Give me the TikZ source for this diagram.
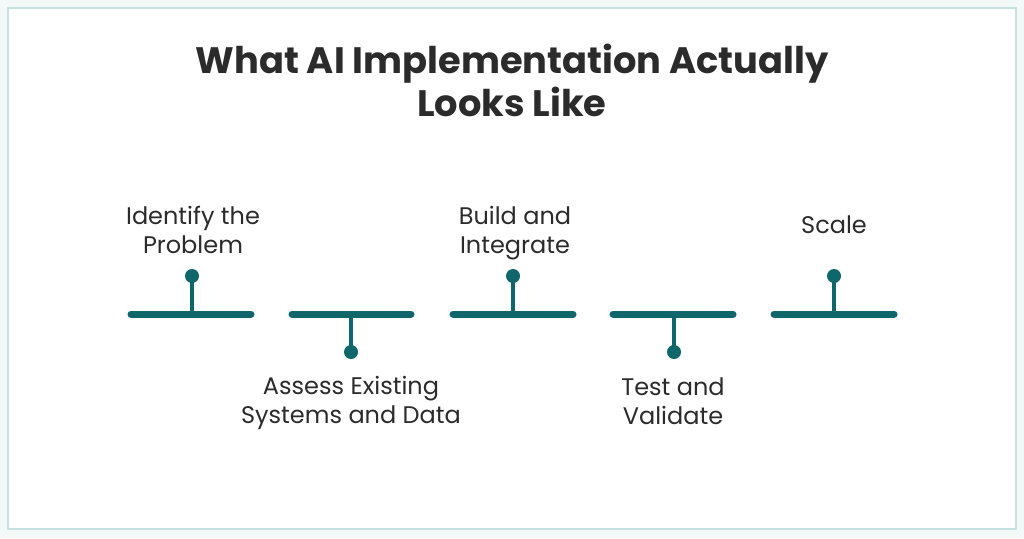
\documentclass[tikz,border=0pt]{standalone}
\usepackage{fontspec}
\setmainfont{Poppins}
\usepackage{xcolor}
\usetikzlibrary{positioning}
\definecolor{tealbar}{HTML}{0F676C}
\definecolor{textdark}{HTML}{2B2B2B}
\definecolor{frameline}{HTML}{C4E2E2}
\definecolor{outerbg}{HTML}{F3F9F9}

\begin{document}
\begin{tikzpicture}[
    x=1pt,y=-1pt,
    bar/.style={line width=7pt,draw=tealbar,line cap=round},
    stem/.style={line width=4.5pt,draw=tealbar},
    dot/.style={circle,fill=tealbar,inner sep=0pt,minimum size=14pt},
    label/.style={align=center,text=textdark,font=\fontsize{24}{29}\selectfont}
]
    % Background and frame
    \fill[outerbg] (0,0) rectangle (1024,538);
    \draw[frameline,line width=2pt,fill=white] (8,8) rectangle (1016,529);
    \useasboundingbox (0,0) rectangle (1024,538);

    % Title
    \node[align=center,text=textdark,font=\bfseries\fontsize{36.8}{43}\selectfont] (title) at (512,80)
        {What AI Implementation Actually\\Looks Like};

    % Bars
    \coordinate (b1l) at (131,314); \coordinate (b1r) at (251,314);
    \coordinate (b2l) at (292,314); \coordinate (b2r) at (411,314);
    \coordinate (b3l) at (453,314); \coordinate (b3r) at (573,314);
    \coordinate (b4l) at (613,314); \coordinate (b4r) at (733,314);
    \coordinate (b5l) at (774,314); \coordinate (b5r) at (894,314);

    % Dots
    \node[dot] (d1) at (192,276) {};
    \node[dot] (d2) at (351,352) {};
    \node[dot] (d3) at (513,276) {};
    \node[dot] (d4) at (674,352) {};
    \node[dot] (d5) at (834,276) {};

    % Stems
    \draw[stem] (d1.center) -- (192,314);
    \draw[stem] (d2.center) -- (351,314);
    \draw[stem] (d3.center) -- (513,314);
    \draw[stem] (d4.center) -- (674,314);
    \draw[stem] (d5.center) -- (834,314);

    \draw[bar] (b1l) -- (b1r);
    \draw[bar] (b2l) -- (b2r);
    \draw[bar] (b3l) -- (b3r);
    \draw[bar] (b4l) -- (b4r);
    \draw[bar] (b5l) -- (b5r);

    % Labels
    \node[label] (l1) at (193,230) {Identify the\\Problem};
    \node[label] (l2) at (351,403) {Assess Existing\\Systems and Data};
    \node[label] (l3) at (515,233) {Build and\\Integrate};
    \node[label] (l4) at (673,401) {Test and\\Validate};
    \node[label] (l5) at (834,225) {Scale};
\end{tikzpicture}
\end{document}
